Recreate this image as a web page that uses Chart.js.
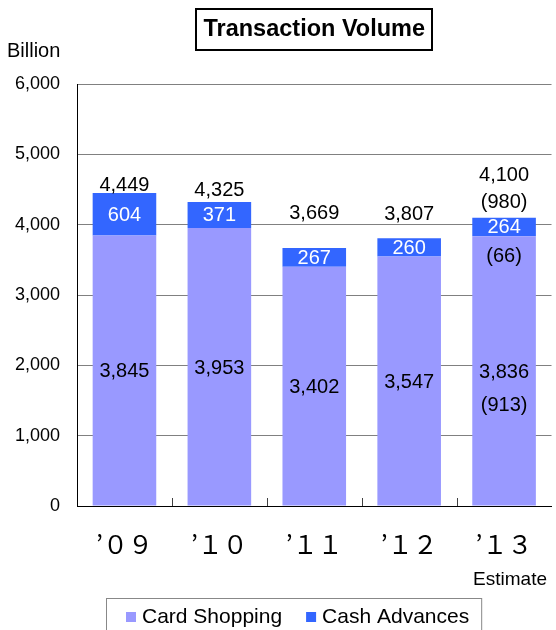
<!DOCTYPE html>
<html>
<head>
<meta charset="utf-8">
<script src="https://cdn.jsdelivr.net/npm/chart.js@4"></script>
<style>
  html, body { margin: 0; padding: 0; background: #fff; overflow: hidden; }
  #wrap { width: 556px; height: 630px; }
</style>
</head>
<body>
<div id="wrap"><canvas id="c" width="556" height="630"></canvas></div>
<script>
// ---- data ----
const categories = ["’０９", "’１０", "’１１", "’１２", "’１３"];
const cardShopping = [3845, 3953, 3402, 3547, 3836];
const cashAdvances = [604, 371, 267, 260, 264];
const totals = [4449, 4325, 3669, 3807, 4100];
const cardNotes = [null, null, null, null, 913];
const cashNotes = [null, null, null, null, 66];
const totalNotes = [null, null, null, null, 980];
const seriesNames = ["Card Shopping", "Cash Advances"];
const yTickValues = [0, 1000, 2000, 3000, 4000, 5000, 6000];
const titleText = "Transaction Volume";
const unitText = "Billion";
const estimateText = "Estimate";

// ---- style constants (not data) ----
const COLORS = ["#9999FF", "#3366FF"];
const SANS = '"Liberation Sans", Arial, sans-serif';
const CJK = '"Noto Sans CJK JP", sans-serif';
const TOTAL_OFFSETS = [8, 11, 34, 24, 42]; // px above bar top
const fmt = v => v.toLocaleString('en-US');

const extras = {
  id: 'extras',
  afterDatasetsDraw(chart) {
    const ctx = chart.ctx, x = chart.scales.x, y = chart.scales.y;
    ctx.save();
    ctx.font = '20px ' + SANS;
    ctx.textAlign = 'center';
    ctx.textBaseline = 'middle';
    const y0 = y.getPixelForValue(0);
    for (let i = 0; i < categories.length; i++) {
      const cx = x.getPixelForValue(i);
      const y1 = y.getPixelForValue(cardShopping[i]);
      const y2 = y.getPixelForValue(cardShopping[i] + cashAdvances[i]);
      const cardMid = (y0 + y1) / 2 + 1;
      const cashMid = (y1 + y2) / 2 + 1;
      ctx.fillStyle = '#000';
      ctx.fillText(fmt(cardShopping[i]), cx, cardMid);
      if (cardNotes[i] != null) ctx.fillText('(' + fmt(cardNotes[i]) + ')', cx, cardMid + 33);
      ctx.fillStyle = '#fff';
      ctx.fillText(fmt(cashAdvances[i]), cx, cashMid);
      ctx.fillStyle = '#000';
      if (cashNotes[i] != null) ctx.fillText('(' + fmt(cashNotes[i]) + ')', cx, cashMid + 29);
      const yt = y.getPixelForValue(totals[i]);
      ctx.fillText(fmt(totals[i]), cx, yt - TOTAL_OFFSETS[i]);
      if (totalNotes[i] != null) ctx.fillText('(' + fmt(totalNotes[i]) + ')', cx, yt - 15);
    }
    // inner x ticks at category boundaries
    ctx.strokeStyle = '#404040';
    ctx.lineWidth = 1;
    for (let i = 0; i < categories.length - 1; i++) {
      const bx = Math.round((x.getPixelForValue(i) + x.getPixelForValue(i + 1)) / 2) + 0.5;
      ctx.beginPath();
      ctx.moveTo(bx, y0 - 8);
      ctx.lineTo(bx, y0);
      ctx.stroke();
    }
    ctx.restore();
  },
  afterDraw(chart) {
    const ctx = chart.ctx, x = chart.scales.x;
    ctx.save();
    // title box
    const tb = chart.titleBlock;
    const tOpt = chart.options.plugins.title;
    const lh = tOpt.font.size * tOpt.font.lineHeight;
    ctx.font = 'bold ' + tOpt.font.size + 'px ' + SANS;
    const tw = ctx.measureText(titleText).width;
    const tcx = (tb.left + tb.right) / 2;
    const tcy = tb.top + tOpt.padding.top + lh / 2;
    ctx.strokeStyle = '#000';
    ctx.lineWidth = 2;
    ctx.strokeRect(Math.round(tcx - tw / 2 - 7), Math.round(tcy - 20.5), Math.round(tw + 14), 41);
    // unit label
    ctx.fillStyle = '#000';
    ctx.font = '20px ' + SANS;
    ctx.textAlign = 'left';
    ctx.textBaseline = 'alphabetic';
    ctx.fillText(unitText, 7, 57);
    // Estimate
    ctx.font = '19px ' + SANS;
    ctx.textAlign = 'center';
    ctx.fillText(estimateText, x.getPixelForValue(categories.length - 1) + 6, 585);
    // custom legend
    ctx.font = '21px ' + SANS;
    ctx.textAlign = 'left';
    let lx = 126;
    const startX = lx;
    chart.data.datasets.forEach((ds, k) => {
      ctx.fillStyle = ds.backgroundColor;
      ctx.fillRect(lx, 612, 10, 10);
      ctx.fillStyle = '#000';
      ctx.fillText(ds.label, lx + 16, 623);
      lx += 16 + ctx.measureText(ds.label).width + (k < chart.data.datasets.length - 1 ? 24 : 0);
    });
    ctx.strokeStyle = '#888';
    ctx.lineWidth = 1;
    ctx.strokeRect(startX - 19.5, 598.5, (lx + 12) - (startX - 20), 60);
    ctx.restore();
  }
};

new Chart(document.getElementById('c'), {
  type: 'bar',
  data: {
    labels: categories,
    datasets: [
      { label: seriesNames[0], data: cardShopping, backgroundColor: COLORS[0], borderWidth: 0 },
      { label: seriesNames[1], data: cashAdvances, backgroundColor: COLORS[1], borderWidth: 0 }
    ]
  },
  options: {
    responsive: false,
    animation: false,
    devicePixelRatio: 1,
    layout: { padding: { left: 0, right: 0, top: 0, bottom: 0 } },
    datasets: { bar: { categoryPercentage: 0.67, barPercentage: 1.0 } },
    plugins: {
      legend: { display: false },
      tooltip: { enabled: false },
      title: {
        display: true,
        text: titleText,
        fullSize: false,
        color: '#000',
        font: { family: SANS, size: 23.5, weight: 'bold', lineHeight: 1.2 },
        padding: { top: 15, bottom: 40.8 }
      }
    },
    scales: {
      x: {
        stacked: true,
        grid: { display: false, drawTicks: false },
        border: { display: true, color: '#000', width: 1 },
        ticks: { color: '#000', font: { family: CJK, size: 25, lineHeight: 1.2 }, padding: 23 },
        afterFit(scale) { scale.height = 124; }
      },
      y: {
        stacked: true,
        min: 0,
        max: 6000,
        afterBuildTicks(scale) { scale.ticks = yTickValues.map(v => ({ value: v })); },
        grid: { color: '#808080', lineWidth: 1, drawTicks: false },
        border: { display: true, color: '#000', width: 1 },
        ticks: { color: '#000', font: { family: SANS, size: 18 }, padding: 17, callback: v => fmt(v) },
        afterFit(scale) { scale.width = 77; }
      }
    }
  },
  plugins: [extras]
});
</script>
</body>
</html>
